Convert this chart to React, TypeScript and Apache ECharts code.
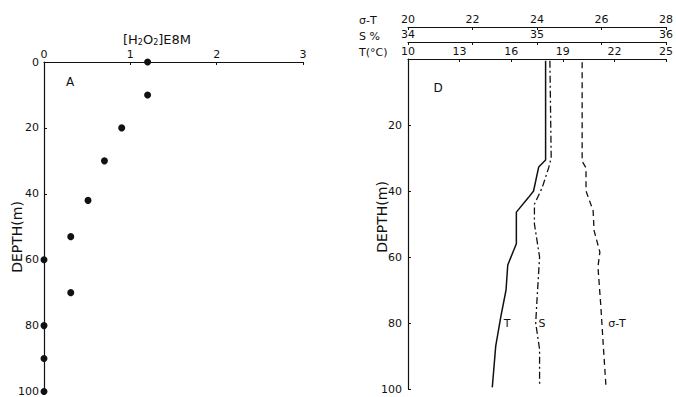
import React, { useEffect, useRef } from "react";
import * as echarts from "echarts";

// Panel A: H2O2 concentration (E8 M) vs depth (m)
const h2o2Depth = [0, 10, 20, 30, 42, 53, 60, 70, 80, 90, 100];
const h2o2Conc = [1.2, 1.2, 0.9, 0.7, 0.51, 0.31, 0, 0.31, 0, 0, 0];

// Panel D: temperature (°C) vs depth
const tDepth = [0.5, 30.6, 32.7, 40, 42, 46.4, 56, 62.4, 70, 78, 87, 99.5];
const tVal = [18.0, 18.0, 17.6, 17.3, 17.0, 16.3, 16.3, 15.8, 15.7, 15.4, 15.1, 14.9];

// Panel D: salinity (‰) vs depth
const sDepth = [0.5, 30, 33, 39, 44, 50, 55, 60, 73, 80, 88, 98.5];
const sVal = [35.1, 35.11, 35.09, 35.04, 34.98, 34.98, 35.0, 35.02, 35.0, 34.99, 35.02, 35.02];

// Panel D: sigma-T vs depth
const sigDepth = [1, 31, 33, 40, 46, 52, 58.5, 63, 75, 89, 99.5];
const sigVal = [25.4, 25.4, 25.52, 25.52, 25.74, 25.77, 25.95, 25.89, 25.98, 26.07, 26.14];

const FONT = "DejaVu Sans";
const INK = "#111";

function pairs(xs: number[], ys: number[]) {
  return xs.map((x, i) => [x, ys[i]]);
}

export default function App() {
  const ref = useRef<HTMLDivElement>(null);
  useEffect(() => {
    if (!ref.current) return;
    const chart = echarts.init(ref.current, undefined, { renderer: "svg" });
    const axisLine = { show: true, lineStyle: { color: INK, width: 1.2 } };
    const axisTick = { show: true, inside: true, length: 3, lineStyle: { color: INK } };
    const axisLabel = { color: INK, fontFamily: FONT, fontSize: 11, margin: 2 };
    const topAxis = (grid: number, min: number, max: number, interval: number, offset: number, fmt?: (v: number) => string) => ({
      type: "value",
      gridIndex: grid,
      position: "top",
      min,
      max,
      interval,
      offset,
      axisLine,
      axisTick,
      splitLine: { show: false },
      axisLabel: { ...axisLabel, formatter: fmt, showMinLabel: true, showMaxLabel: true },
    });
    const text = (x: number, y: number, t: string, extra: any = {}) => ({
      type: "text",
      x,
      y,
      style: { text: t, fill: INK, font: `12px '${FONT}'`, ...extra },
    });
    chart.setOption({
      animation: false,
      backgroundColor: "#fff",
      grid: [
        { left: 44, top: 62, width: 259, height: 331 },
        { left: 408, top: 59, width: 258, height: 330 },
      ],
      xAxis: [
        topAxis(0, 0, 3, 1, 0),
        topAxis(1, 10, 25, 3, 0),
        topAxis(1, 34, 36, 0.5, 17, (v: number) => (Number.isInteger(v) ? String(v) : "")),
        topAxis(1, 20, 28, 2, 32),
      ],
      yAxis: [
        {
          type: "value",
          gridIndex: 0,
          inverse: true,
          min: 0,
          max: 100,
          interval: 20,
          axisLine,
          axisTick,
          splitLine: { show: false },
          axisLabel: { ...axisLabel, margin: 5 },
        },
        {
          type: "value",
          gridIndex: 1,
          inverse: true,
          min: 0,
          max: 100,
          interval: 20,
          axisLine,
          axisTick,
          splitLine: { show: false },
          axisLabel: { ...axisLabel, margin: 6, formatter: (v: number) => (v === 0 ? "" : String(v)) },
        },
      ],
      series: [
        {
          type: "scatter",
          xAxisIndex: 0,
          yAxisIndex: 0,
          data: pairs(h2o2Conc, h2o2Depth),
          symbol: "circle",
          symbolSize: 7,
          itemStyle: { color: INK, opacity: 1 },
        },
        {
          type: "line",
          xAxisIndex: 1,
          yAxisIndex: 1,
          data: pairs(tVal, tDepth),
          showSymbol: false,
          lineStyle: { color: INK, width: 1.5, type: "solid" },
        },
        {
          type: "line",
          xAxisIndex: 2,
          yAxisIndex: 1,
          data: pairs(sVal, sDepth),
          showSymbol: false,
          lineStyle: { color: INK, width: 1.3, type: [7, 3, 2, 3] },
        },
        {
          type: "line",
          xAxisIndex: 3,
          yAxisIndex: 1,
          data: pairs(sigVal, sigDepth),
          showSymbol: false,
          lineStyle: { color: INK, width: 1.3, type: [6, 4] },
        },
      ],
      graphic: [
        {
          type: "text",
          x: 157,
          y: 39,
          style: {
            text: "[H{sub|2}O{sub|2}]E8M",
            fill: INK,
            font: `13px '${FONT}'`,
            align: "center",
            verticalAlign: "middle",
            rich: { sub: { fontSize: 8, fontFamily: FONT, fill: INK, padding: [6, 0, 0, 0] } },
          },
        },
        text(70, 82, "A", { align: "center", verticalAlign: "middle" }),
        text(438, 88, "D", { align: "center", verticalAlign: "middle" }),
        text(359, 20, "σ-T", { verticalAlign: "middle", font: `11px '${FONT}'` }),
        text(359, 36, "S %", { verticalAlign: "middle", font: `11px '${FONT}'` }),
        text(359, 52, "T(°C)", { verticalAlign: "middle", font: `11px '${FONT}'` }),
        text(507, 323, "T", { align: "center", verticalAlign: "middle", font: `11px '${FONT}'` }),
        text(542, 323, "S", { align: "center", verticalAlign: "middle", font: `11px '${FONT}'` }),
        text(617, 323, "σ-T", { align: "center", verticalAlign: "middle", font: `11px '${FONT}'` }),
        {
          type: "text",
          x: 17,
          y: 237,
          rotation: Math.PI / 2,
          style: { text: "DEPTH(m)", fill: INK, font: `14px '${FONT}'`, align: "center", verticalAlign: "middle" },
        },
        {
          type: "text",
          x: 382,
          y: 217,
          rotation: Math.PI / 2,
          style: { text: "DEPTH(m)", fill: INK, font: `14px '${FONT}'`, align: "center", verticalAlign: "middle" },
        },
      ],
    });
    return () => chart.dispose();
  }, []);
  return (
    <div
      ref={ref}
      style={{ position: "fixed", left: 0, top: 0, width: 676, height: 397, background: "#fff" }}
    />
  );
}
